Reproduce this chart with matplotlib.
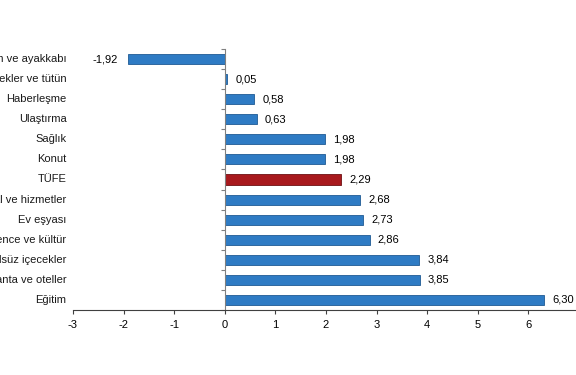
import matplotlib.pyplot as plt
import numpy as np

categories = [
    "Giyim ve ayakkabı",
    "Alkollü içecekler ve tütün",
    "Haberleşme",
    "Ulaştırma",
    "Sağlık",
    "Konut",
    "TÜFE",
    "Çeşitli mal ve hizmetler",
    "Ev eşyası",
    "Eğlence ve kültür",
    "Gıda ve alkolsüz içecekler",
    "Lokanta ve oteller",
    "Eğitim",
]
values = [-1.92, 0.05, 0.58, 0.63, 1.98, 1.98, 2.29, 2.68, 2.73, 2.86, 3.84, 3.85, 6.30]
value_labels = ["-1,92", "0,05", "0,58", "0,63", "1,98", "1,98", "2,29",
                "2,68", "2,73", "2,86", "3,84", "3,85", "6,30"]
x_ticks = [-3, -2, -1, 0, 1, 2, 3, 4, 5, 6, 7]

BLUE = "#2E7BC4"
BLUE_EDGE = "#1F5A94"
RED = "#A8191D"
RED_EDGE = "#6E1012"

plt.rcParams["font.family"] = ["Liberation Sans", "DejaVu Sans"]

fig = plt.figure(figsize=(5.76, 3.75), dpi=100)
ax = fig.add_axes([73 / 576, 1 - 310 / 375, (579 - 73) / 576, 261 / 375])

y = np.arange(len(categories))
colors = [RED if c == "TÜFE" else BLUE for c in categories]
edges = [RED_EDGE if c == "TÜFE" else BLUE_EDGE for c in categories]
ax.barh(y, values, height=0.5, color=colors, edgecolor=edges, linewidth=0.6, zorder=2)

ax.set_xlim(-3, 7)
ax.set_ylim(len(categories) - 0.5, -0.5)

for spine in ["top", "right"]:
    ax.spines[spine].set_visible(False)
ax.spines["left"].set_position(("data", 0))
ax.spines["left"].set_color("#808080")
ax.spines["bottom"].set_color("#404040")

ax.set_yticks(np.arange(len(categories) + 1) - 0.5)
ax.set_yticklabels([])
ax.tick_params(axis="y", length=3, color="#808080", direction="out")
ax.set_xticks(x_ticks)
ax.set_xticklabels([str(t) for t in x_ticks], fontsize=8)
ax.tick_params(axis="x", length=3, color="#404040", pad=4)

for yi, cat in zip(y, categories):
    ax.text(-0.013, yi, cat, transform=ax.get_yaxis_transform(), ha="right",
            va="center", fontsize=8, color="#1a1a1a")

for yi, v, lab in zip(y, values, value_labels):
    if v < 0:
        ax.annotate(lab, (v, yi), xytext=(-7, 0), textcoords="offset points",
                    ha="right", va="center", fontsize=8)
    else:
        ax.annotate(lab, (v, yi), xytext=(6, 0), textcoords="offset points",
                    ha="left", va="center", fontsize=8)

plt.savefig("out.png", dpi=100)
